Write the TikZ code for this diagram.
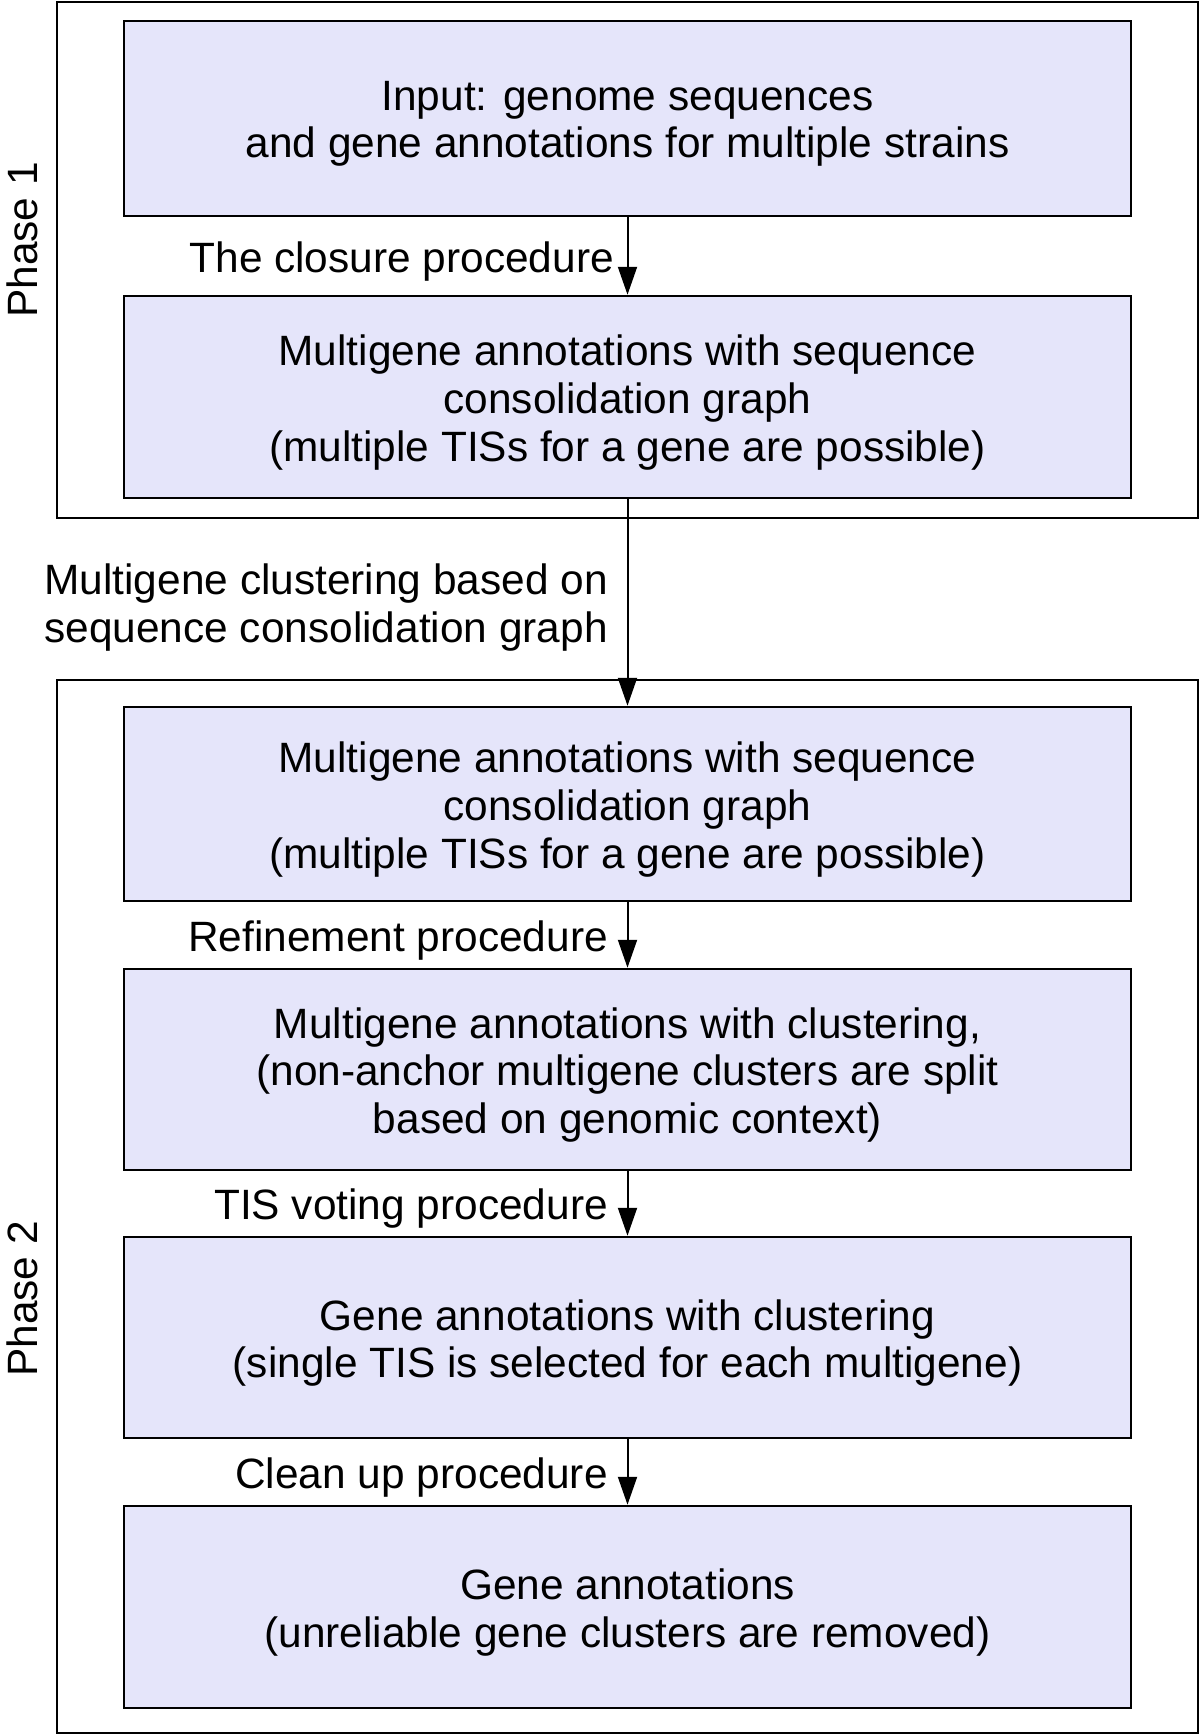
\documentclass[tikz,border=0pt]{standalone}
\usepackage{fontspec}
\setmainfont{Liberation Sans}
\usetikzlibrary{arrows.meta}
\definecolor{boxfill}{RGB}{229,229,250}
\tikzset{
  stepbox/.style={draw=black, line width=2.5pt, fill=boxfill, minimum width=1007pt, inner sep=0pt},
  boxtext/.style={align=center, inner sep=0pt},
  phasebox/.style={draw=black, line width=2.5pt, minimum width=1141pt, inner sep=0pt},
  lab/.style={anchor=east, align=right, inner sep=0pt},
  arr/.style={line width=2pt, -{Triangle[length=28pt,width=19pt]}},
}
\begin{document}
\begin{tikzpicture}[x=1pt,y=-1pt]
\fontsize{42.4}{47.6}\selectfont
\useasboundingbox (0,0) rectangle (1200,1736);
\node[phasebox, minimum height=516pt] (p1) at (627.5,260) {};
\node[phasebox, minimum height=1053pt] (p2) at (627.5,1206.5) {};
\node[rotate=90, inner sep=0pt] (p1l) at (22,240) {Phase 1};
\node[rotate=90, inner sep=0pt] (p2l) at (22,1299) {Phase 2};

\node[stepbox, minimum height=195pt] (b1) at (627.5,118.5) {};
\node[stepbox, minimum height=202pt] (b2) at (627.5,397) {};
\node[stepbox, minimum height=194pt] (b3) at (627.5,804) {};
\node[stepbox, minimum height=201pt] (b4) at (627.5,1069.5) {};
\node[stepbox, minimum height=201pt] (b5) at (627.5,1337.5) {};
\node[stepbox, minimum height=202pt] (b6) at (627.5,1607) {};

\node[boxtext] (t1) at ([yshift=-5.5pt]b1.center) {Input: genome sequences\\and gene annotations for multiple strains};
\node[boxtext] (t2) at ([yshift=-5.5pt]b2.center) {Multigene annotations with sequence\\consolidation graph\\(multiple TISs for a gene are possible)};
\node[boxtext] (t3) at ([yshift=-5.5pt]b3.center) {Multigene annotations with sequence\\consolidation graph\\(multiple TISs for a gene are possible)};
\node[boxtext] (t4) at ([yshift=-5.5pt]b4.center) {Multigene annotations with clustering,\\(non-anchor multigene clusters are split\\based on genomic context)};
\node[boxtext] (t5) at ([yshift=-5.5pt]b5.center) {Gene annotations with clustering\\(single TIS is selected for each multigene)};
\node[boxtext] (t6) at ([yshift=-5.5pt]b6.center) {Gene annotations\\(unreliable gene clusters are removed)};

\draw[arr] (b1.south) -- (b2.north);
\draw[arr] (b2.south) -- (b3.north);
\draw[arr] (b3.south) -- (b4.north);
\draw[arr] (b4.south) -- (b5.north);
\draw[arr] (b5.south) -- (b6.north);

\node[lab] (l1) at (614,261.5) {The closure procedure};
\node[lab] (l2) at (608,607.5) {Multigene clustering based on\\sequence consolidation graph};
\node[lab] (l3) at (608,940.5) {Refinement procedure};
\node[lab] (l4) at (608,1208.5) {TIS voting procedure};
\node[lab] (l5) at (608,1477.5) {Clean up procedure};
\end{tikzpicture}
\end{document}
